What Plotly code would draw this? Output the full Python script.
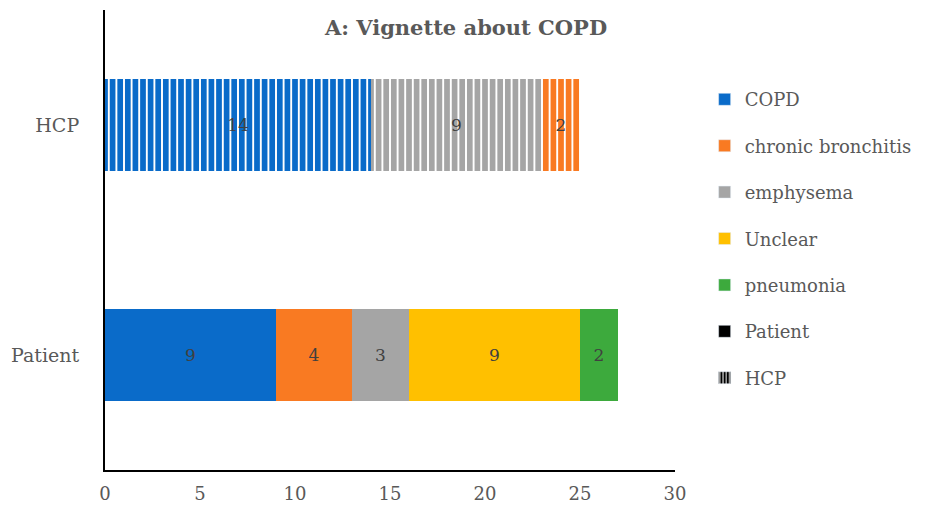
import plotly.graph_objects as go

categories = ["COPD", "chronic bronchitis", "emphysema", "Unclear", "pneumonia"]
colors = ["#0A6BC9", "#F97A22", "#A5A5A5", "#FFC000", "#3DAA3D"]

# Patient bar (solid), in stacking order
patient_order = ["COPD", "chronic bronchitis", "emphysema", "Unclear", "pneumonia"]
patient_values = [9, 4, 3, 9, 2]

# HCP bar (striped), in stacking order
hcp_order = ["COPD", "emphysema", "chronic bronchitis"]
hcp_values = [14, 9, 2]

groups = ["Patient", "HCP"]
x_ticks = [0, 5, 10, 15, 20, 25, 30]

cmap = dict(zip(categories, colors))
FONT = "DejaVu Serif"
TXT = "#404040"
GRAY = "#595959"

fig = go.Figure()

# legend-only entries for categories
for cat in categories:
    fig.add_trace(go.Bar(
        x=[None], y=[None], orientation="h", name=cat,
        marker=dict(color=cmap[cat]), legendgroup=cat, showlegend=True))

for cat, v in zip(patient_order, patient_values):
    fig.add_trace(go.Bar(
        x=[v], y=["Patient"], orientation="h", name=cat, legendgroup=cat,
        showlegend=False, marker=dict(color=cmap[cat], line=dict(width=0)),
        text=[str(v)], textposition="inside", insidetextanchor="middle",
        textfont=dict(family=FONT, size=17, color=TXT), width=0.4))

for cat, v in zip(hcp_order, hcp_values):
    fig.add_trace(go.Bar(
        x=[v], y=["HCP"], orientation="h", name=cat, legendgroup=cat,
        showlegend=False,
        marker=dict(color=cmap[cat], line=dict(width=0),
                    pattern=dict(shape="|", fgcolor="white", bgcolor=cmap[cat],
                                 size=7.6, solidity=0.25, fillmode="replace")),
        text=[str(v)], textposition="inside", insidetextanchor="middle",
        textfont=dict(family=FONT, size=17, color=TXT), width=0.4))

# legend entries for groups
fig.add_trace(go.Bar(x=[None], y=[None], orientation="h", name="Patient",
                     marker=dict(color="black"), legendgroup="Patient"))
fig.add_trace(go.Bar(x=[None], y=[None], orientation="h", name="HCP",
                     marker=dict(color="black",
                                 pattern=dict(shape="|", fgcolor="white", bgcolor="black",
                                              size=4, solidity=0.3, fillmode="replace")),
                     legendgroup="HCP"))

fig.update_layout(
    barmode="stack",
    width=929, height=513,
    margin=dict(l=97, r=262, t=2, b=51),
    paper_bgcolor="white", plot_bgcolor="white",
    title=dict(text="<b>A: Vignette about COPD</b>", x=0.493, xanchor="center",
               y=0.962, yanchor="middle",
               font=dict(family=FONT, size=21, color=GRAY)),
    xaxis=dict(range=[0, 30], tickvals=x_ticks, showgrid=False, zeroline=False,
               showline=True, linecolor="black", linewidth=2, ticks="",
               ticklabelstandoff=6,
               tickfont=dict(family=FONT, size=18, color=GRAY)),
    yaxis=dict(type="category", categoryorder="array", categoryarray=groups,
               range=[-0.5, 1.5],
               showgrid=False, zeroline=False, showline=True, linecolor="black",
               linewidth=2, ticks="", ticklabelstandoff=20,
               tickfont=dict(family=FONT, size=19, color=GRAY)),
    legend=dict(x=1.052, xanchor="left", y=0.503, yanchor="middle",
                font=dict(family=FONT, size=18, color=GRAY),
                tracegroupgap=20, traceorder="grouped", itemwidth=30),
    bargap=0.6,
    showlegend=True,
)

fig.write_html("out.html")
